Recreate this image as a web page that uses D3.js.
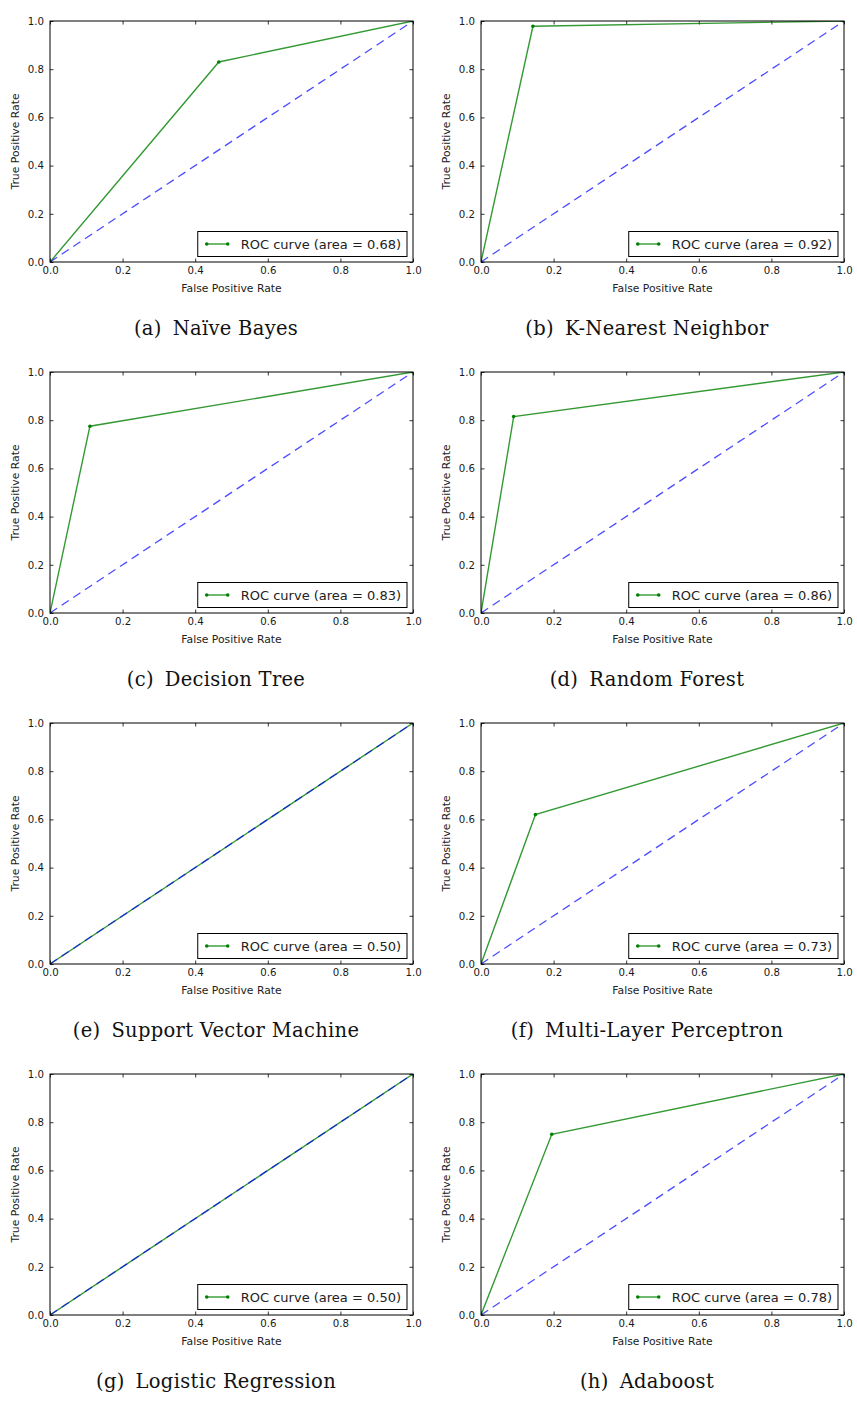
<!DOCTYPE html>
<html>
<head>
<meta charset="utf-8">
<script src="https://cdn.jsdelivr.net/npm/d3@7"></script>
<style>
  body { margin: 0; background: #fff; }
  svg { display: block; }
</style>
</head>
<body>
<div id="chart"></div>
<script>
// panel data
var letters = ["a", "b", "c", "d", "e", "f", "g", "h"];
var models = ["Naïve Bayes", "K-Nearest Neighbor", "Decision Tree", "Random Forest",
              "Support Vector Machine", "Multi-Layer Perceptron", "Logistic Regression", "Adaboost"];
var fpr = [[0, 0.465, 1], [0, 0.143, 1], [0, 0.11, 1], [0, 0.09, 1],
           [0, 1], [0, 0.15, 1], [0, 1], [0, 0.195, 1]];
var tpr = [[0, 0.83, 1], [0, 0.978, 1], [0, 0.775, 1], [0, 0.815, 1],
           [0, 1], [0, 0.62, 1], [0, 1], [0, 0.75, 1]];
var areas = ["0.68", "0.92", "0.83", "0.86", "0.50", "0.73", "0.50", "0.78"];
var ticks = [0, 0.2, 0.4, 0.6, 0.8, 1.0];

var W = 857, H = 1405;
var plotW = 363, plotH = 241;
var colX = [50, 481];
var rowStep = 351, top0 = 21;
var captionX = [216, 647];

var svg = d3.select("#chart").append("svg")
    .attr("width", W)
    .attr("height", H);

var x = d3.scaleLinear().domain([0, 1]).range([0, plotW]);
var y = d3.scaleLinear().domain([0, 1]).range([plotH, 0]);
var fmt = d3.format(".1f");

var line = d3.line()
    .x(function(d) { return x(d[0]); })
    .y(function(d) { return y(d[1]); });

svg.append("defs").append("clipPath")
    .attr("id", "clip")
  .append("rect")
    .attr("width", plotW)
    .attr("height", plotH);

letters.forEach(function(letter, i) {
  var col = i % 2, row = Math.floor(i / 2);
  var g = svg.append("g")
      .attr("transform", "translate(" + colX[col] + "," + (top0 + row * rowStep) + ")");

  // ticks on all four sides, pointing inwards
  var tick = 3.5;
  g.append("g")
      .attr("transform", "translate(0," + plotH + ")")
      .call(d3.axisBottom(x).tickValues(ticks).tickFormat(fmt).tickSize(-tick).tickPadding(5));
  g.append("g")
      .call(d3.axisLeft(y).tickValues(ticks).tickFormat(fmt).tickSize(-tick).tickPadding(6));
  g.append("g")
      .call(d3.axisTop(x).tickValues(ticks).tickFormat("").tickSize(-tick));
  g.append("g")
      .attr("transform", "translate(" + plotW + ",0)")
      .call(d3.axisRight(y).tickValues(ticks).tickFormat("").tickSize(-tick));

  g.selectAll(".domain").remove();
  g.selectAll(".tick line").attr("stroke", "#000").attr("stroke-width", 0.8);
  g.selectAll(".tick text")
      .attr("fill", "#1a1a1a")
      .style("font-family", "DejaVu Sans")
      .style("font-size", "10.2px");

  var pts = fpr[i].map(function(v, k) { return [v, tpr[i][k]]; });
  var plot = g.append("g").attr("clip-path", "url(#clip)");

  plot.append("path")
      .datum(pts)
      .attr("d", line)
      .attr("fill", "none")
      .attr("stroke", "#008000")
      .attr("stroke-opacity", 0.8)
      .attr("stroke-width", 1.4);

  plot.selectAll(".pt")
      .data(pts)
    .enter().append("circle")
      .attr("class", "pt")
      .attr("cx", function(d) { return x(d[0]); })
      .attr("cy", function(d) { return y(d[1]); })
      .attr("r", 1.8)
      .attr("fill", "#008000");

  plot.append("path")
      .datum([[0, 0], [1, 1]])
      .attr("d", line)
      .attr("fill", "none")
      .attr("stroke", "#0000ff")
      .attr("stroke-opacity", 0.7)
      .attr("stroke-width", 1.3)
      .attr("stroke-dasharray", "8.5,5.5");

  // frame
  g.append("rect")
      .attr("width", plotW)
      .attr("height", plotH)
      .attr("fill", "none")
      .attr("stroke", "#000")
      .attr("stroke-width", 1);

  // legend
  var lg = g.append("g");
  var txt = lg.append("text")
      .attr("font-family", "DejaVu Sans")
      .attr("font-size", "13px")
      .attr("fill", "#222")
      .text("ROC curve (area = " + areas[i] + ")");
  var tw = txt.node().getComputedTextLength();
  var bw = tw + 49, bh = 25;
  var bx = plotW - 6 - bw, by = plotH - 5.5 - bh;
  lg.insert("rect", "text")
      .attr("x", bx).attr("y", by)
      .attr("width", bw).attr("height", bh)
      .attr("fill", "#fff")
      .attr("stroke", "#000")
      .attr("stroke-width", 1);
  txt.attr("x", bx + 43).attr("y", by + bh / 2 + 4.6);
  lg.append("line")
      .attr("x1", bx + 9).attr("x2", bx + 30)
      .attr("y1", by + bh / 2).attr("y2", by + bh / 2)
      .attr("stroke", "#008000").attr("stroke-opacity", 0.8).attr("stroke-width", 1.4);
  lg.selectAll(".lp")
      .data([9, 30])
    .enter().append("circle")
      .attr("cx", function(d) { return bx + d; })
      .attr("cy", by + bh / 2)
      .attr("r", 1.8)
      .attr("fill", "#008000");

  // axis labels
  g.append("text")
      .attr("x", plotW / 2)
      .attr("y", plotH + 29.5)
      .attr("text-anchor", "middle")
      .attr("font-family", "DejaVu Sans")
      .attr("font-size", "10.8px")
      .attr("fill", "#222")
      .text("False Positive Rate");
  g.append("text")
      .attr("transform", "translate(-31," + (plotH / 2) + ") rotate(-90)")
      .attr("text-anchor", "middle")
      .attr("font-family", "DejaVu Sans")
      .attr("font-size", "10.8px")
      .attr("fill", "#222")
      .text("True Positive Rate");

  // sub caption
  var cap = svg.append("text")
      .attr("x", captionX[col])
      .attr("y", 335 + row * rowStep)
      .attr("text-anchor", "middle")
      .attr("font-family", "DejaVu Serif")
      .attr("font-size", "19.5px")
      .attr("letter-spacing", "0.3px")
      .attr("fill", "#111");
  cap.append("tspan").text("(" + letter + ")");
  cap.append("tspan").attr("dx", 11).text(models[i]);
});
</script>
</body>
</html>
